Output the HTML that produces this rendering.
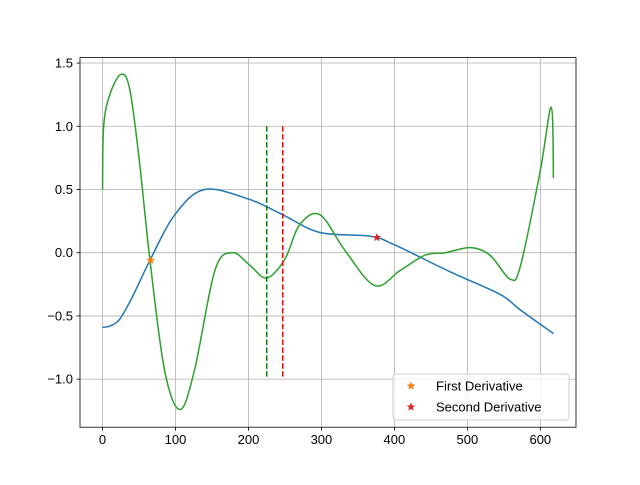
<!DOCTYPE html>
<html><head><meta charset="utf-8"><style>
body{margin:0;background:#fff}
svg text{font-family:"Liberation Sans","DejaVu Sans",sans-serif;font-size:13px;fill:#000}
</style></head><body>
<svg id="chart" width="640" height="480"></svg>
<script>
const blueX=[0,10,23,40,65,99,140,202,247,298,367,401,476,545,572,618];
const blueY=[-0.59,-0.58,-0.53,-0.36,-0.06,0.3,0.5,0.42,0.3,0.16,0.13,0.06,-0.15,-0.33,-0.45,-0.64];
const greenX=[0,1.5,10,25,37,50,65,85,106,126,154,178,202,225,250,270,298,332,373,408,442,470,504,531,559,573,600,615,618];
const greenY=[0.5,1.0,1.25,1.41,1.3,0.75,-0.06,-0.93,-1.24,-0.93,-0.14,0.0,-0.1,-0.2,-0.05,0.22,0.3,0.02,-0.26,-0.14,-0.02,0.0,0.04,-0.02,-0.21,-0.1,0.65,1.15,0.59];
const markerFirst=[66,-0.06];
const markerSecond=[376,0.12];
const vlineGreen=225, vlineRed=247;
const xTicks=[0,100,200,300,400,500,600];
const yTicks=[-1.0,-0.5,0.0,0.5,1.0,1.5];
const L=80,R=576,T=57.6,B=427.2,xmin=-30.9,xmax=648.9,ymin=-1.38,ymax=1.543;
const sx=v=>L+(v-xmin)/(xmax-xmin)*(R-L);
const sy=v=>B-(v-ymin)/(ymax-ymin)*(B-T);
const svg=document.getElementById('chart');
const NS='http://www.w3.org/2000/svg';
function mk(tag,attrs,parent){const e=document.createElementNS(NS,tag);for(const k in attrs)e.setAttribute(k,attrs[k]);(parent||svg).appendChild(e);return e;}
function path(xs,ys){const p=xs.map((x,i)=>[sx(x),sy(ys[i])]);let d='M'+p[0][0]+','+p[0][1];
for(let i=0;i<p.length-1;i++){const p0=p[Math.max(0,i-1)],p1=p[i],p2=p[i+1],p3=p[Math.min(p.length-1,i+2)];
const c1=[p1[0]+(p2[0]-p0[0])/6,p1[1]+(p2[1]-p0[1])/6],c2=[p2[0]-(p3[0]-p1[0])/6,p2[1]-(p3[1]-p1[1])/6];
d+=` C${c1[0]},${c1[1]} ${c2[0]},${c2[1]} ${p2[0]},${p2[1]}`;}return d;}
xTicks.forEach(v=>{const g=mk('line',{x1:sx(v),x2:sx(v),y1:T,y2:B,stroke:'#b0b0b0','stroke-width':0.8});

const t=mk('line',{x1:sx(v),x2:sx(v),y1:B,y2:B+3.5,stroke:'#000','stroke-width':0.8});

const l=mk('text',{x:sx(v),y:B+17,'text-anchor':'middle'});l.textContent=v;
});
yTicks.forEach(v=>{const g=mk('line',{x1:L,x2:R,y1:sy(v),y2:sy(v),stroke:'#b0b0b0','stroke-width':0.8});

const t=mk('line',{x1:L-3.5,x2:L,y1:sy(v),y2:sy(v),stroke:'#000','stroke-width':0.8});

const l=mk('text',{x:L-7,y:sy(v)+4.5,'text-anchor':'end'});l.textContent=(v<0?'\u2212':'')+Math.abs(v).toFixed(1);
});
const b=mk('path',{d:path(blueX,blueY),fill:'none',stroke:'#1f77b4','stroke-width':1.5});

const g=mk('path',{d:path(greenX,greenY),fill:'none',stroke:'#2ca02c','stroke-width':1.5});

const v1=mk('line',{x1:sx(vlineGreen),x2:sx(vlineGreen),y1:sy(1),y2:sy(-1),stroke:'#008000','stroke-width':1.5,'stroke-dasharray':'5.5,2.4'});

const v2=mk('line',{x1:sx(vlineRed),x2:sx(vlineRed),y1:sy(1),y2:sy(-1),stroke:'#ff0000','stroke-width':1.5,'stroke-dasharray':'5.5,2.4'});

function star(cx,cy,r,col){let pts=[];for(let i=0;i<10;i++){const a=-Math.PI/2+i*Math.PI/5,rr=i%2?r*0.42:r;pts.push((cx+rr*Math.cos(a))+','+(cy+rr*Math.sin(a)));}
return mk('polygon',{points:pts.join(' '),fill:col,stroke:col,'stroke-width':0.5});}
const s1=star(sx(markerFirst[0]),sy(markerFirst[1]),4,'#ff7f0e');
const s2=star(sx(markerSecond[0]),sy(markerSecond[1]),4,'#d62728');
const fr=mk('rect',{x:L,y:T,width:R-L,height:B-T,fill:'none',stroke:'#000','stroke-width':0.8});

const lg=mk('g',{});
mk('rect',{x:393,y:374,width:176,height:46,rx:3,fill:'#fff','fill-opacity':0.8,stroke:'#ccc'},lg);
const ls1=star(411,386,4,'#ff7f0e');lg.appendChild(ls1);
const ls2=star(411,407,4,'#d62728');lg.appendChild(ls2);
const t1=mk('text',{x:436,y:390.5},lg);t1.textContent='First Derivative';
const t2=mk('text',{x:436,y:411.5},lg);t2.textContent='Second Derivative';
</script>
</body></html>
